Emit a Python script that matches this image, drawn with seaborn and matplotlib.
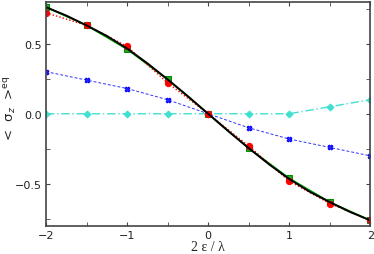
import numpy as np
import pandas as pd
import matplotlib
matplotlib.use("Agg")
import matplotlib.pyplot as plt
import seaborn as sns
from matplotlib.ticker import MultipleLocator

# data
x = [-2, -1.5, -1, -0.5, 0, 0.5, 1, 1.5, 2]
green_sq = [0.76, 0.63, 0.46, 0.245, 0.0, -0.245, -0.46, -0.63, -0.76]
red_circ = [0.72, 0.63, 0.48, 0.22, 0.0, -0.23, -0.48, -0.64, -0.76]
blue_x = [0.30, 0.24, 0.18, 0.10, 0.0, -0.10, -0.18, -0.24, -0.30]
cyan_dia = [0.0, 0.0, 0.0, 0.0, 0.0, 0.0, 0.0, 0.05, 0.10]

x_fine = [-2, -1.75, -1.5, -1.25, -1, -0.75, -0.5, -0.25, 0,
          0.25, 0.5, 0.75, 1, 1.25, 1.5, 1.75, 2]
black_line = [0.76, 0.70, 0.63, 0.555, 0.465, 0.36, 0.245, 0.125, 0.0,
              -0.125, -0.245, -0.36, -0.465, -0.555, -0.63, -0.70, -0.76]

sns.set_style("ticks")
plt.rcParams['font.family'] = ['DejaVu Sans']

fig, ax = plt.subplots(figsize=(3.74, 2.55), dpi=100)

sns.lineplot(x=x, y=cyan_dia, ax=ax, color="#40e0d0", linestyle=(0, (6, 2, 1, 2)),
             lw=1.0, marker="D", markersize=3.5, markeredgecolor="#40e0d0")
sns.lineplot(x=x, y=blue_x, ax=ax, color="#3030ff", linestyle=(0, (3, 2)),
             lw=0.7, marker="X", markersize=3.5, markeredgecolor="#0000ff")
sns.lineplot(x=x, y=green_sq, ax=ax, color="#00aa00", lw=1.2, marker="s",
             markersize=5, markerfacecolor="#22aa22", markeredgecolor="#008800")
sns.lineplot(x=x, y=red_circ, ax=ax, color="red", linestyle=(0, (1, 1.5)),
             lw=1.0, marker="o", markersize=4.5, markeredgecolor="red")
sns.lineplot(x=x_fine, y=black_line, ax=ax, color="black", lw=1.4)

ax.set_xlim(-2, 2)
ax.set_ylim(-0.8, 0.8)
ax.xaxis.set_major_locator(MultipleLocator(1))
ax.xaxis.set_minor_locator(MultipleLocator(0.5))
ax.yaxis.set_major_locator(MultipleLocator(0.5))
ax.yaxis.set_minor_locator(MultipleLocator(0.25))
ax.tick_params(which="both", direction="in", top=True, right=True, labelsize=8,
               color="#444444", labelcolor="#222222", pad=3, length=3)
for s in ax.spines.values():
    s.set_color("#444444")
    s.set_linewidth(1.2)

ax.set_xlabel("2 ε / λ", family="Liberation Serif", fontsize=10, labelpad=0)
ax.set_ylabel(r"<  σ$_z$  >$^{\rm eq}$", fontsize=9.5)
ax.yaxis.set_label_coords(-0.083, 0.53)

fig.subplots_adjust(left=0.123, right=0.99, top=0.99, bottom=0.11)
fig.savefig("out.png", dpi=100)
